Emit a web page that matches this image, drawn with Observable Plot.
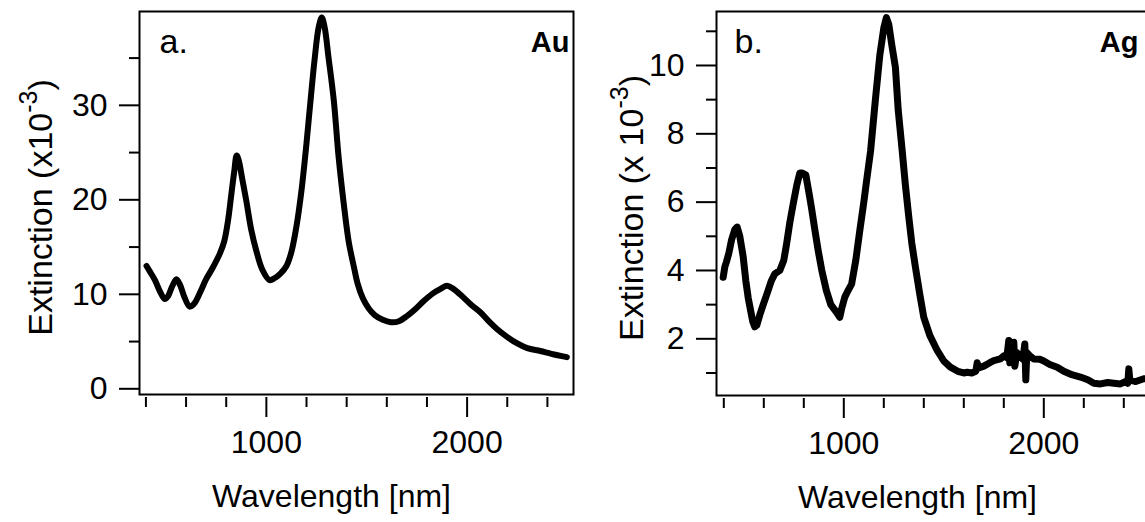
<!DOCTYPE html>
<html><head><meta charset="utf-8">
<script src="https://cdn.jsdelivr.net/npm/d3@7"></script>
<script src="https://cdn.jsdelivr.net/npm/@observablehq/plot@0.6"></script>
<style>
html,body{margin:0;padding:0;background:#fff;overflow:hidden;width:1145px;height:522px;}
#wrap{position:relative;width:1145px;height:522px;overflow:hidden;background:#fff;}
#left{position:absolute;left:0;top:0;width:580px;height:522px;}
#right{position:absolute;left:580px;top:0;width:580px;height:522px;}
#wrap svg{max-width:none !important;width:580px;height:522px;}
</style></head><body><div id="wrap"><div id="left"></div><div id="right"></div></div>
<script>
// Panel a: Au
const auWavelength = [403,420,445,470,494,510,530,552,570,590,618,640,670,700,730,768,790,809,825,840,852,862,880,900,925,950,980,1016,1040,1070,1100,1125,1150,1175,1200,1220,1240,1260,1276,1290,1310,1336,1360,1386,1410,1436,1455,1480,1510,1540,1580,1620,1660,1700,1740,1784,1830,1870,1900,1930,1970,2020,2066,2110,2150,2199,2250,2300,2365,2420,2497];
const auExtinction = [13.0,12.4,11.5,10.3,9.5,9.8,10.8,11.6,11.0,9.8,8.7,9.0,10.2,11.6,12.7,14.3,15.6,17.8,20.5,23.0,24.7,24.2,22.2,19.9,16.8,14.6,12.6,11.5,11.7,12.2,13.0,14.5,17.2,21.0,26.0,30.5,34.8,38.2,39.3,38.3,35.0,30.5,24.5,19.5,15.6,12.9,11.1,9.6,8.5,7.8,7.3,7.05,7.15,7.7,8.4,9.3,10.1,10.6,10.9,10.6,9.9,8.9,8.1,7.1,6.3,5.5,4.8,4.3,4.0,3.7,3.35];
// Panel b: Ag
const agWavelength = [397,405,413,425,439,455,467,480,497,510,522,535,545,555,565,580,597,615,638,655,680,700,714,730,747,765,780,793,810,825,838,855,872,890,913,935,963,980,990,1005,1020,1039,1060,1080,1100,1114,1134,1158,1180,1200,1213,1225,1240,1258,1272,1292,1308,1325,1340,1358,1380,1400,1430,1467,1500,1533,1570,1600,1617,1640,1660,1667,1675,1700,1730,1750,1783,1800,1815,1825,1830,1840,1850,1855,1865,1880,1895,1905,1910,1915,1930,1950,1980,2000,2030,2067,2100,2140,2183,2220,2250,2283,2320,2350,2383,2410,2420,2425,2430,2460,2500,2530];
const agExtinction = [3.8,4.1,4.25,4.5,4.9,5.2,5.27,5.0,4.4,3.7,3.2,2.8,2.5,2.35,2.4,2.7,3.0,3.3,3.7,3.9,4.0,4.3,4.78,5.4,5.95,6.5,6.85,6.85,6.8,6.3,5.85,5.2,4.58,4.0,3.41,3.0,2.78,2.63,2.9,3.22,3.4,3.6,4.3,5.17,6.0,6.63,7.5,9.0,10.3,11.1,11.4,11.2,10.6,9.95,8.7,7.5,6.5,5.56,4.8,4.1,3.3,2.63,2.1,1.66,1.35,1.17,1.05,1.0,1.02,1.0,1.05,1.3,1.15,1.2,1.3,1.36,1.41,1.5,1.45,1.95,1.3,1.5,1.9,1.2,1.6,1.5,1.4,1.85,0.8,1.6,1.5,1.41,1.4,1.35,1.25,1.17,1.05,0.95,0.88,0.8,0.7,0.68,0.72,0.7,0.68,0.75,0.7,1.12,0.8,0.75,0.83,0.85];
// Axis ticks
const xMajorTicks = [1000, 2000];
const xMinorTicks = [400, 600, 800, 1200, 1400, 1600, 1800, 2200, 2400];
const auYMajor = [0, 10, 20, 30];
const auYMinor = [5, 15, 25, 35];
const agYMajor = [2, 4, 6, 8, 10];
const agYMinor = [1, 3, 5, 7, 9, 11];
const xLabel = "Wavelength [nm]";
const auYLabel = ["Extinction (x10", "-3", ")"];
const agYLabel = ["Extinction (x 10", "-3", ")"];

const FONT = "'Liberation Sans', Arial, Helvetica, sans-serif";

function panel(o) {
  const data = o.wl.map((w, i) => ({w, e: o.ext[i]}));
  const yl = o.ylabel.join("");
  const svg = Plot.plot({
    width: o.width, height: 522,
    marginLeft: o.marginLeft, marginRight: o.marginRight, marginTop: 11, marginBottom: o.marginBottom,
    style: {fontFamily: FONT, background: "transparent", overflow: "visible", color: "black"},
    x: {domain: o.xDomain, axis: null},
    y: {domain: o.yDomain, axis: null},
    marks: [
      Plot.frame({stroke: "black", strokeWidth: 2, insetBottom: 3}),
      Plot.axisY(o.majorY, {anchor: "left", tickSize: 20, tickPadding: 12, fontSize: 32, strokeWidth: 2, label: null, tickFormat: d => String(d)}),
      Plot.axisY(o.minorY, {anchor: "left", tickSize: 10, tickFormat: () => "", strokeWidth: 2, label: null}),
      Plot.axisX(xMajorTicks, {anchor: "bottom", tickSize: 20, tickPadding: 13, fontSize: 32, strokeWidth: 2, label: null, tickFormat: d => String(d)}),
      Plot.axisX(xMinorTicks, {anchor: "bottom", tickSize: 10, tickFormat: () => "", strokeWidth: 2, label: null}),
      Plot.line(data, {x: "w", y: "e", stroke: "black", strokeWidth: o.strokeWidth, curve: o.curve, strokeLinejoin: "round", strokeLinecap: "round"}),
      Plot.text([xLabel], {frameAnchor: "bottom", dx: o.xlabelDx, dy: 99, fontSize: 32, textAnchor: "middle", lineAnchor: "middle"}),
      Plot.text([yl], {frameAnchor: "left", dx: o.ylabelDx, dy: 3, fontSize: 34, rotate: -90, textAnchor: "middle", lineAnchor: "middle"}),
      Plot.text([o.letter], {frameAnchor: "top-left", dx: o.letterDx, dy: 17, fontSize: 34, textAnchor: "start", lineAnchor: "top"}),
      Plot.text([o.metal], {frameAnchor: "top-right", dx: o.metalDx, dy: 20, fontSize: 29, fontWeight: "bold", textAnchor: "end", lineAnchor: "top"})
    ]
  });
  d3.select(svg).selectAll("text").each(function() {
    if (this.textContent === yl) {
      const t = d3.select(this);
      t.text("");
      t.append("tspan").text(o.ylabel[0]);
      t.append("tspan").attr("font-size", 25).attr("dy", -15).text(o.ylabel[1]);
      t.append("tspan").attr("font-size", 34).attr("dy", 15).text(o.ylabel[2]);
    }
  });
  return svg;
}

document.getElementById("left").appendChild(panel({
  wl: auWavelength, ext: auExtinction, xDomain: [368, 2530], yDomain: [-0.92, 39.93],
  majorY: auYMajor, minorY: auYMinor, width: 580, marginLeft: 139, marginRight: 7, marginBottom: 125,
  letter: "a.", metal: "Au", ylabel: auYLabel, strokeWidth: 6, curve: "catmull-rom",
  ylabelDx: -98, xlabelDx: -25, letterDx: 20, metalDx: -4
}));
document.getElementById("right").appendChild(panel({
  wl: agWavelength, ext: agExtinction, xDomain: [363.5, 2533.5], yDomain: [0.253, 11.58],
  majorY: agYMajor, minorY: agYMinor, width: 580, marginLeft: 136, marginRight: 10, marginBottom: 124,
  letter: "b.", metal: "Ag", ylabel: agYLabel, strokeWidth: 7, curve: "linear",
  ylabelDx: -84, xlabelDx: -16, letterDx: 18, metalDx: -12
}));
</script></body></html>
